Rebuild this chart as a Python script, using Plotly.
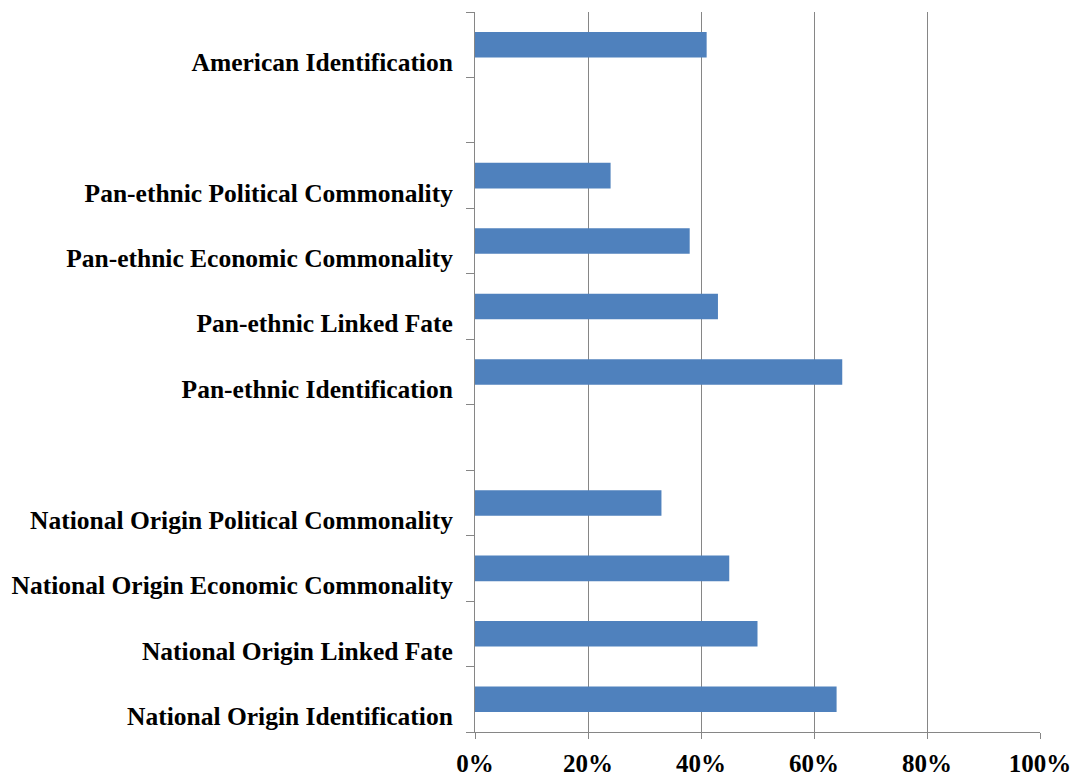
import plotly.graph_objects as go

categories = [
    "National Origin Identification",
    "National Origin Linked Fate",
    "National Origin Economic Commonality",
    "National Origin Political Commonality",
    " ",
    "Pan-ethnic Identification",
    "Pan-ethnic Linked Fate",
    "Pan-ethnic Economic Commonality",
    "Pan-ethnic Political Commonality",
    "  ",
    "American Identification",
]
values = [0.64, 0.50, 0.45, 0.33, None, 0.65, 0.43, 0.38, 0.24, None, 0.41]
x_ticks = [0, 0.2, 0.4, 0.6, 0.8, 1.0]

FONT = "Liberation Serif"
GRID = "#868686"

fig = go.Figure(
    go.Bar(
        y=categories,
        x=values,
        orientation="h",
        marker=dict(color="#4F81BD", line=dict(width=0)),
        hoverinfo="x+y",
    )
)

fig.update_layout(
    width=1075,
    height=776,
    margin=dict(l=475, r=35, t=12, b=44),
    paper_bgcolor="white",
    plot_bgcolor="white",
    bargap=0.61,
    showlegend=False,
    font=dict(family=FONT, color="black"),
)

fig.update_xaxes(
    range=[0, 1],
    tickvals=x_ticks,
    tickformat=".0%",
    showgrid=True,
    gridcolor=GRID,
    gridwidth=1,
    showline=True,
    linecolor=GRID,
    linewidth=1,
    ticks="outside",
    ticklen=6,
    tickcolor=GRID,
    tickfont=dict(family=FONT, size=25, color="black", weight="bold"),
    zeroline=False,
    ticklabelstandoff=3,
    automargin=False,
)

fig.update_yaxes(
    type="category",
    categoryorder="array",
    categoryarray=categories,
    showgrid=False,
    showline=True,
    linecolor=GRID,
    linewidth=1,
    ticks="outside",
    ticklen=8,
    tickcolor=GRID,
    tickson="boundaries",
    tickfont=dict(family=FONT, size=25.5, color="black", weight="bold"),
    ticklabelshift=17,
    ticklabelstandoff=16,
    automargin=False,
)

fig.write_html(
    "out.html",
    config={"displayModeBar": False},
    post_script="document.body.style.margin='0';document.body.style.padding='0';",
)
